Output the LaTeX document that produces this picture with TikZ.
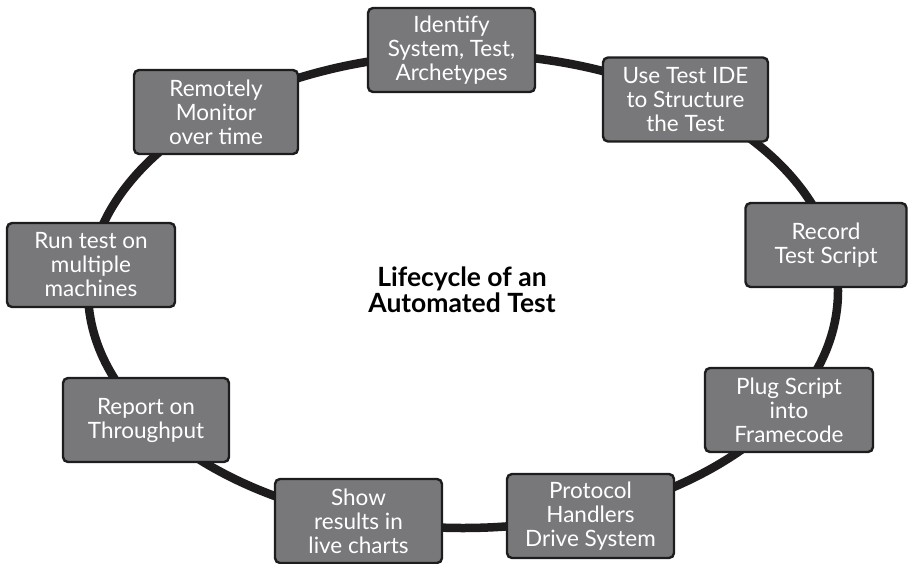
\documentclass[tikz,border=0pt]{standalone}
\usepackage{fontspec}
\setmainfont{Lato}
\definecolor{stepgray}{RGB}{120,120,123}
\definecolor{ringblack}{RGB}{30,28,29}
\begin{document}
\begin{tikzpicture}[x=1pt,y=-1pt,
  stagebox/.style={draw=ringblack, line width=2.4pt, fill=stepgray, rounded corners=5pt,
    text=white, align=center, inner sep=0pt,
    minimum width=#1, minimum height=84pt,
    font=\fontsize{22.5}{24}\selectfont},
  stagebox/.default=166pt,
  ring/.style={draw=ringblack, line width=8.5pt},
  title/.style={align=center, text=black, font=\bfseries\fontsize{26.5}{26}\selectfont}]
  \useasboundingbox (0,0) rectangle (908,563);

  % the cycle itself
  \path[ring] (463,291) ellipse [x radius=375, y radius=237];

  % stages of the cycle, clockwise from the top
  \node[stagebox=167pt] (identify) at (451.5,50) {Identify\\System, Test,\\Archetypes};
  \node[stagebox=165pt] (ide)      at (685.5,99.5) {Use Test IDE\\to Structure\\the Test};
  \node[stagebox=161pt] (record)   at (826,245) {Record\\Test Script};
  \node[stagebox=168pt] (plug)     at (789,410) {Plug Script\\into\\Framecode};
  \node[stagebox=167pt] (protocol) at (590.5,516) {Protocol\\Handlers\\Drive System};
  \node[stagebox=167pt] (charts)   at (358.5,521) {Show\\results in\\live charts};
  \node[stagebox=166pt] (report)   at (146,420) {Report on\\Throughput};
  \node[stagebox=168pt] (machines) at (91,265) {Run test on\\multiple\\machines};
  \node[stagebox=164pt] (monitor)  at (216,112) {Remotely\\Monitor\\over time};

  \node[title] (lifecycle) at (462,290) {Lifecycle of an\\Automated Test};
\end{tikzpicture}
\end{document}
